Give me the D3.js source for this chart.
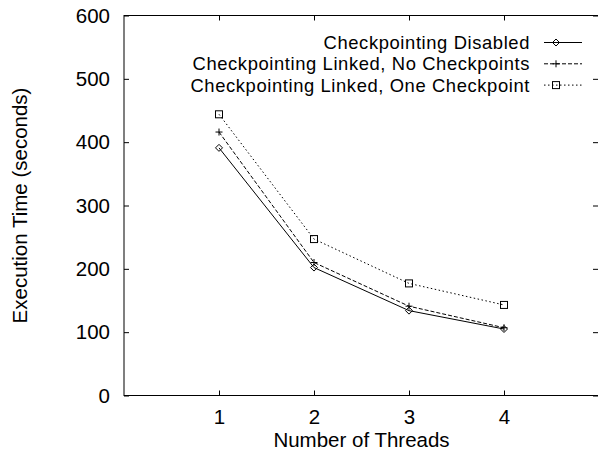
<!DOCTYPE html>
<html><head><meta charset="utf-8">
<script src="https://cdn.jsdelivr.net/npm/d3@7"></script>
<style>body{margin:0;background:#fff}svg{display:block}text{font-family:"Liberation Sans",Arial,sans-serif;fill:#000}</style>
</head><body><svg id="c" width="598" height="453"></svg>
<script>
const threads = [1, 2, 3, 4];
const disabled = [391, 202, 134, 105];
const linkedNoCkpt = [416, 210, 141, 107];
const linkedOneCkpt = [444, 247, 177, 143];
const seriesNames = ["Checkpointing Disabled", "Checkpointing Linked, No Checkpoints", "Checkpointing Linked, One Checkpoint"];
const xTicks = [1, 2, 3, 4];
const yTicks = [0, 100, 200, 300, 400, 500, 600];

const svg = d3.select("#c");
const L = 124, R = 599, T = 15.5, B = 395.5;
const x = d3.scaleLinear().domain([0, 5]).range([L, R]);
const y = d3.scaleLinear().domain([0, 600]).range([B, T]);
const fs = 20.5;
const legFs = 18.4;

// frame
svg.append("rect").attr("x", L).attr("y", T).attr("width", R - L).attr("height", B - T)
  .attr("fill", "none").attr("stroke", "#000").attr("stroke-width", 1);

// axes with inward ticks
const xAxis = svg.append("g").attr("transform", `translate(0,${B})`)
  .call(d3.axisBottom(x).tickValues(xTicks).tickSizeInner(-5).tickSizeOuter(0).tickPadding(14).tickFormat(d3.format("d")));
const xTop = svg.append("g").attr("transform", `translate(0,${T})`)
  .call(d3.axisTop(x).tickValues(xTicks).tickSizeInner(-5).tickSizeOuter(0).tickFormat(""));
const yAxis = svg.append("g").attr("transform", `translate(${L},0)`)
  .call(d3.axisLeft(y).tickValues(yTicks).tickSizeInner(-5).tickSizeOuter(0).tickPadding(14).tickFormat(d3.format("d")));
const yRight = svg.append("g").attr("transform", `translate(${R - 1},0)`)
  .call(d3.axisRight(y).tickValues(yTicks).tickSizeInner(-5).tickSizeOuter(0).tickFormat(""));
[xAxis, xTop, yAxis, yRight].forEach(g => {
  g.select(".domain").remove();
  g.selectAll("line").attr("stroke", "#000");
  g.selectAll("text").attr("font-size", fs).attr("font-family", '"Liberation Sans",Arial,sans-serif');
});
xAxis.selectAll("text").attr("dy", "0.71em").attr("y", 14);
yAxis.selectAll("text").attr("x", -14);

// axis titles
svg.append("text").attr("x", (L + R) / 2).attr("y", 447).attr("text-anchor", "middle")
  .attr("font-size", fs).text("Number of Threads");
svg.append("text").attr("transform", `translate(27,${(T + B) / 2}) rotate(-90)`).attr("text-anchor", "middle")
  .attr("font-size", fs).text("Execution Time (seconds)");

const series = [
  {name: seriesNames[0], vals: disabled, dash: null, mark: "diamond"},
  {name: seriesNames[1], vals: linkedNoCkpt, dash: "4,2", mark: "plus"},
  {name: seriesNames[2], vals: linkedOneCkpt, dash: "1.5,2.5", mark: "square"}
];

function marker(g, type, cx, cy) {
  if (type === "diamond") {
    g.append("path").attr("d", `M${cx},${cy-3.5}L${cx+3.5},${cy}L${cx},${cy+3.5}L${cx-3.5},${cy}Z`)
      .attr("fill", "none").attr("stroke", "#000").attr("stroke-width", 1);
  } else if (type === "plus") {
    g.append("path").attr("d", `M${cx-3.5},${cy}H${cx+3.5}M${cx},${cy-3.5}V${cy+3.5}`)
      .attr("fill", "none").attr("stroke", "#000").attr("stroke-width", 1);
  } else {
    g.append("rect").attr("x", cx - 3.5).attr("y", cy - 3.5).attr("width", 7).attr("height", 7)
      .attr("fill", "none").attr("stroke", "#000").attr("stroke-width", 1);
  }
}

const line = d3.line().x((d, i) => x(threads[i])).y(d => y(d));
series.forEach(s => {
  const g = svg.append("g");
  g.append("path").attr("d", line(s.vals)).attr("fill", "none").attr("stroke", "#000")
    .attr("stroke-width", 1).attr("stroke-dasharray", s.dash);
  s.vals.forEach((v, i) => marker(g, s.mark, x(threads[i]), y(v)));
});

// legend
const legY = [42.5, 63.8, 85.1];
series.forEach((s, i) => {
  const g = svg.append("g");
  g.append("text").attr("x", 530).attr("y", legY[i]).attr("dy", "0.35em").attr("text-anchor", "end")
    .attr("font-size", legFs).attr("letter-spacing", 0.6).text(s.name);
  g.append("line").attr("x1", 544).attr("x2", 582).attr("y1", legY[i]).attr("y2", legY[i])
    .attr("stroke", "#000").attr("stroke-width", 1).attr("stroke-dasharray", s.dash);
  marker(g, s.mark, 556, legY[i]);
});
</script></body></html>
